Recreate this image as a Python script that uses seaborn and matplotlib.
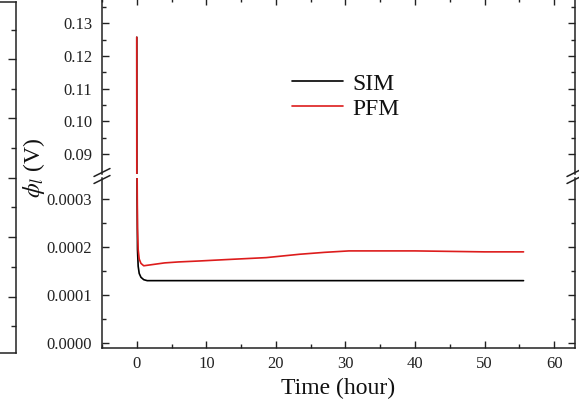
import numpy as np
import pandas as pd
import matplotlib
matplotlib.use("Agg")
import matplotlib.pyplot as plt
from matplotlib.lines import Line2D
from matplotlib.ticker import MultipleLocator, FixedLocator
import seaborn as sns

# ---- data ----
time_h = [0, 0.02, 0.05, 0.1, 0.2, 0.35, 0.6, 1.0, 1.5, 2.5, 4, 6, 9, 13,
          18.6, 23.4, 27, 30.5, 35, 40, 45, 50, 55.6]
pfm = [0.1257, 0.0015, 0.00035, 0.00024, 0.000195, 0.000175, 0.000166,
       0.000161, 0.000162, 0.000164, 0.000167, 0.000169, 0.000171, 0.000174,
       0.000178, 0.000185, 0.000189, 0.000192, 0.000192, 0.000192, 0.000191,
       0.00019, 0.00019]
sim = [0.1257, 0.0012, 0.0003, 0.000195, 0.00016, 0.000145, 0.000137,
       0.000132, 0.00013, 0.00013, 0.00013, 0.00013, 0.00013, 0.00013,
       0.00013, 0.00013, 0.00013, 0.00013, 0.00013, 0.00013, 0.00013,
       0.00013, 0.00013]
series_names = ["SIM", "PFM"]
series_colors = {"SIM": "#000000", "PFM": "#dd1c1c"}
x_label = "Time (hour)"
y_label = r"$\phi_l$ (V)"
top_major = [0.09, 0.10, 0.11, 0.12, 0.13]
top_minor = [0.095, 0.105, 0.115, 0.125, 0.135]
bot_major = [0.0, 0.0001, 0.0002, 0.0003]
bot_minor = [0.00005, 0.00015, 0.00025]

df = pd.DataFrame({
    "Time": time_h * 2,
    "phi": sim + pfm,
    "Model": ["SIM"] * len(time_h) + ["PFM"] * len(time_h),
})

sns.set_theme(style="ticks")
plt.rcParams["font.family"] = ["Liberation Serif", "DejaVu Serif"]
plt.rcParams["mathtext.fontset"] = "stix"

W, H = 579, 408
fig = plt.figure(figsize=(W / 100, H / 100), dpi=100)

def fx(px):
    return px / W

def fy(py):
    return 1 - py / H

def rect(x0, y0, x1, y1):
    # pixel box (top-left, bottom-right) -> figure rect
    return [fx(x0), fy(y1), fx(x1) - fx(x0), fy(y0) - fy(y1)]

L, R = 102, 575
ax_top = fig.add_axes(rect(L, -2, R, 174))
ax_bot = fig.add_axes(rect(L, 178, R, 347.7))

# neighbouring (cropped) panel at the left edge
ax_left = fig.add_axes(rect(-60, 2, 16, 353))
ax_left.set_ylim(353, 2)
ax_left.set_xlim(0, 1)
ax_left.yaxis.set_major_locator(FixedLocator([59, 118, 178, 237, 297]))
ax_left.yaxis.set_minor_locator(FixedLocator([30, 89, 148, 207, 267, 326]))
ax_left.tick_params(axis="y", which="both", left=False, right=True,
                    labelleft=False, labelright=False, direction="in", width=1)
ax_left.tick_params(axis="y", which="major", length=6)
ax_left.tick_params(axis="y", which="minor", length=3.5)
ax_left.set_xticks([])
for s in ax_left.spines.values():
    s.set_linewidth(1.1)
    s.set_color("#222222")

for ax in (ax_top, ax_bot):
    sns.lineplot(data=df, x="Time", y="phi", hue="Model",
                 hue_order=series_names, palette=series_colors,
                 estimator=None, sort=False, linewidth=1.2, ax=ax,
                 legend=False)
    ax.set_xlim(-5, 63)
    ax.set_xlabel("")
    ax.set_ylabel("")
    ax.xaxis.set_major_locator(MultipleLocator(10))
    ax.xaxis.set_minor_locator(MultipleLocator(5))
    for s in ax.spines.values():
        s.set_linewidth(1.1)
        s.set_color("#222222")
    ax.tick_params(which="both", direction="in", width=1, colors="#222222",
                   labelcolor="#222222", labelsize=12, left=True, right=True)
    ax.tick_params(which="major", length=5)
    ax.tick_params(which="minor", length=3)
    ax.tick_params(axis="y", pad=7)

ax_top.set_ylim(0.0839, 0.1377)
ax_top.yaxis.set_major_locator(FixedLocator(top_major))
ax_top.yaxis.set_minor_locator(FixedLocator(top_minor))
ax_top.set_yticklabels([f"{v:.2f}" for v in top_major])
ax_top.spines["bottom"].set_visible(False)
ax_top.tick_params(axis="x", which="both", bottom=False, top=True,
                   labelbottom=False, labeltop=False)

ax_bot.set_ylim(-0.0000098, 0.000344)
ax_bot.yaxis.set_major_locator(FixedLocator(bot_major))
ax_bot.yaxis.set_minor_locator(FixedLocator(bot_minor))
ax_bot.set_yticklabels([f"{v:.4f}" for v in bot_major])
ax_bot.spines["top"].set_visible(False)
ax_bot.tick_params(axis="x", which="both", bottom=True, top=False,
                   labelbottom=True)
ax_bot.tick_params(axis="x", pad=6)
ax_bot.set_xlabel(x_label, fontsize=17, color="#111111", labelpad=4)

# break marks
for xc in (L, R):
    for dy in (-3.5, 3.5):
        y0 = 176 + dy
        fig.add_artist(Line2D([fx(xc - 8), fx(xc + 8)],
                              [fy(y0 + 4), fy(y0 - 4)],
                              color="#222222", linewidth=1.1))

fig.text(fx(34), fy(168), y_label, rotation=90, ha="center", va="center",
         fontsize=17, color="#111111")

handles = [Line2D([], [], color=series_colors[n], linewidth=1.2)
           for n in series_names]
fig.legend(handles, series_names, loc="upper left",
           bbox_to_anchor=(fx(292), fy(73)), bbox_transform=fig.transFigure,
           frameon=False, fontsize=17, borderpad=0, borderaxespad=0,
           handlelength=2.15, handletextpad=0.4, labelspacing=0.15,
           labelcolor="#111111")

fig.savefig("out.png", dpi=100)
